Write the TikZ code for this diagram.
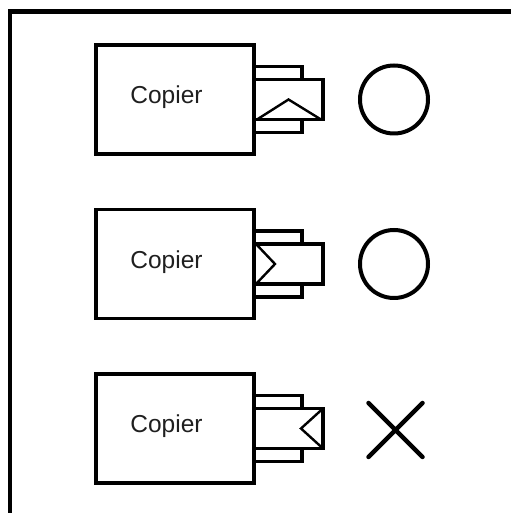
\documentclass[tikz,border=0pt]{standalone}
\usepackage{fontspec}
\setmainfont{Liberation Sans}
\usetikzlibrary{positioning, shapes.misc}

\begin{document}
\begin{tikzpicture}[x=1pt, y=1pt, font=\fontsize{24.5}{28}\selectfont,
          every node/.style={inner sep=0pt, outer sep=0pt},
          copier/.style={draw, line width=3.6pt, minimum width=158pt, minimum height=109pt},
          lbl/.style={text=black!88},
          tray/.style={draw, line width=3.4pt, minimum width=69pt, minimum height=40pt},
          slot/.style={draw, line width=3.4pt, minimum width=48pt, minimum height=13pt},
          paper/.style={line width=2.4pt, line join=miter},
          okmark/.style={draw, circle, line width=4pt, minimum size=68pt},
          ngmark/.style={draw, cross out, line width=4.5pt, line cap=round, minimum size=54pt},
          frame/.style={line width=4.5pt, line join=miter}]
          \useasboundingbox (0,0) rectangle (511,513);
          % outer frame
          \draw[frame] (10,0) |- (511,501.5);
          % copiers
          \node[copier] (c1) at (175,413.5) {};
          \node[copier] (c2) at (175,249) {};
          \node[copier] (c3) at (175,84.5) {};
          \node[lbl] (t1) at ([shift={(-8.5pt,2pt)}]c1.center) {Copier};
          \node[lbl] (t2) at ([shift={(-8.5pt,2pt)}]c2.center) {Copier};
          \node[lbl] (t3) at ([shift={(-8.5pt,2pt)}]c3.center) {Copier};
          % output trays
          \node[tray, anchor=west] (m1) at (c1.east) {};
          \node[slot, anchor=south west] (u1) at (m1.north west) {};
          \node[slot, anchor=north west] (l1) at (m1.south west) {};
          \node[tray, anchor=west] (m2) at (c2.east) {};
          \node[slot, anchor=south west] (u2) at (m2.north west) {};
          \node[slot, anchor=north west] (l2) at (m2.south west) {};
          \node[tray, anchor=west] (m3) at (c3.east) {};
          \node[slot, anchor=south west] (u3) at (m3.north west) {};
          \node[slot, anchor=north west] (l3) at (m3.south west) {};
          % paper in the trays
          \draw[paper] ([xshift=3pt]m1.south west) -- (m1.center) -- ([xshift=-2pt]m1.south east);
          \draw[paper] ([xshift=2pt]m2.north west) -- ([xshift=21pt]m2.west) -- ([xshift=2pt]m2.south west);
          \draw[paper] (m3.north east) -- ([xshift=-22pt]m3.east) -- (m3.south east);
          % results
          \node[okmark] (ok1) at (394,413.5) {};
          \node[okmark] (ok2) at (394,249) {};
          \node[ngmark] (ng3) at (395.5,83) {};
        \end{tikzpicture}
\end{document}
